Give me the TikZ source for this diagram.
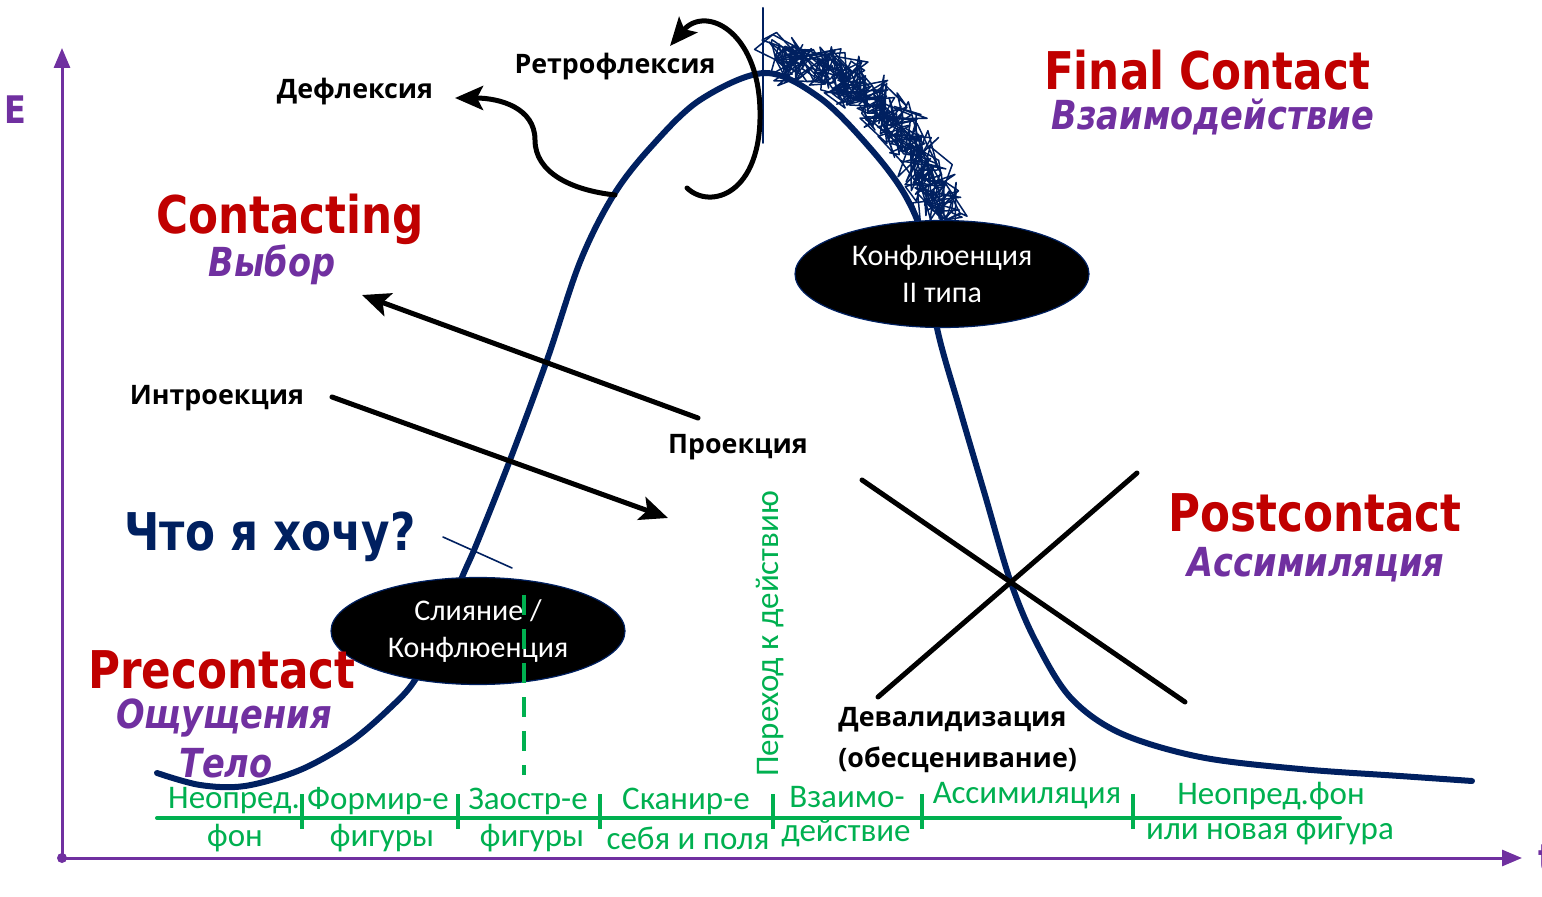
\documentclass[tikz,border=0pt]{standalone}
\usepackage{fontspec}
\setmainfont{Open Sans}
\newfontfamily\headfont[FakeStretch=0.84]{DejaVu Sans}
\newfontfamily\stagefont{Carlito}
\usetikzlibrary{arrows.meta,shapes.geometric,decorations.pathmorphing}
\definecolor{navy}{HTML}{002060}
\definecolor{ered}{HTML}{C00000}
\definecolor{lilac}{HTML}{7030A0}
\definecolor{leaf}{HTML}{00B050}
\begin{document}
\begin{tikzpicture}[x=0.5pt,y=-0.5pt,line join=round,line cap=round,
		>={Stealth[length=14pt,width=12pt,inset=3pt]},
		curve/.style={navy,line width=3pt},
		axis/.style={lilac,line width=1.5pt,-{Triangle[length=10pt,width=8pt]}},
		move/.style={line width=2.5pt,->},
		cross/.style={line width=2.5pt},
		blob/.style={ellipse,fill=black,draw=navy,line width=0.6pt,text=white,align=center,
			minimum width=147pt,minimum height=53.5pt,inner sep=0pt,
			font=\stagefont\fontsize{15}{18.5}\selectfont},
		stage/.style={leaf,inner sep=0pt,font=\stagefont\fontsize{16.5}{18}\selectfont},
		phase/.style={ered,inner sep=0pt,font=\headfont\bfseries\fontsize{26}{29}\selectfont},
		mode/.style={lilac,inner sep=0pt,font=\headfont\bfseries\itshape\fontsize{20}{22}\selectfont},
		lab/.style={inner sep=0pt,font=\bfseries\fontsize{13.4}{16}\selectfont}]
	\useasboundingbox (0,0) rectangle (1542,897);
	% axes
	\coordinate (O) at (62,858);
	\draw[axis] (O) -- (62,48);
	\draw[axis] (O) -- (1522,858);
	\fill[lilac] (O) circle (2.5pt);
	\node[lilac,font=\headfont\bfseries\fontsize{19}{20}\selectfont] (E) at (15,110) {E};
	\node[lilac,anchor=west,font=\headfont\bfseries\fontsize{19}{20}\selectfont] (t) at (1531,858) {t};
	% energy curve
	\draw[curve] plot[smooth,tension=0.55] coordinates {(157,773) (200,785) (245,786) (300,770)
		(350,742) (390,708) (415,680) (440,630) (463,575) (477,543) (510,460) (547,360)
		(580,262) (613,196) (650,148) (700,100) (765,73) (820,98) (870,148) (905,195)
		(925,245) (937,328) (960,410) (985,495) (1010,580) (1035,640) (1070,697)
		(1120,733) (1200,757) (1300,769) (1400,776) (1472,781)};
	% scribble at the top
	\pgfmathsetseed{17}
	\foreach \amp/\seg in {13/2.6,10/2.2,14/3,8/2,12/2.4,11/2.8,9/1.8,13/2.2,7/1.6}
		\draw[navy,line width=0.75pt,decorate,
			decoration={random steps,segment length=\seg pt,amplitude=\amp pt}]
			(776,60) .. controls (855,60) and (917,133) .. (946,220);
	\draw[navy,line width=1pt] (763,8) -- (763,143);
	% ovals
	\node[blob] (fusion) at (478,631) {Слияние /\\Конфлюенция};
	\node[blob] (confl) at (942,274) {Конфлюенция\\II типа};
	\draw[leaf,line width=2pt,line cap=butt,dash pattern=on 10pt off 7pt] (524,595) -- (524,775);
	\draw[navy,line width=0.8pt] (443,537) -- (512,568);
	% deflection and retroflection
	\coordinate (defl-s) at (615,195);
	\coordinate (defl-e) at (455,98);
	\draw[move] (defl-s) .. controls (570,190) and (535,172) .. (535,140)
		.. controls (535,108) and (500,98) .. (defl-e);
	\coordinate (retro-s) at (687,188);
	\coordinate (retro-e) at (670,46);
	\draw[move] (retro-s) .. controls (710,210) and (762,195) .. (760,110)
		.. controls (758,30) and (705,5) .. (retro-e);
	\node[lab] (defl) at (355,92) {Дефлексия};
	\node[lab] (retro) at (615,67) {Ретрофлексия};
	% introjection and projection
	\node[lab] (intro) at (217,398) {Интроекция};
	\node[lab] (proj) at (738,447) {Проекция};
	\coordinate (intro-s) at (332,397);
	\coordinate (intro-e) at (668,518);
	\coordinate (proj-s) at (698,418);
	\coordinate (proj-e) at (362,295);
	\draw[move] (intro-s) -- (intro-e);
	\draw[move] (proj-s) -- (proj-e);
	% devaluation cross
	\draw[cross] (862,480) -- (1185,702);
	\draw[cross] (878,697) -- (1137,473);
	\node[lab,anchor=west] (deval) at (838,720) {Девалидизация};
	\node[lab,anchor=west] (deval2) at (838,760) {(обесценивание)};
	% phases
	\node[phase] (fc) at (1207,70) {Final Contact};
	\node[mode] (fc2) at (1213,117) {Взаимодействие};
	\node[phase] (ct) at (290,219) {Contacting};
	\node[mode] (ct2) at (272,265) {Выбор};
	\node[phase] (pc) at (1315,513) {Postcontact};
	\node[mode] (pc2) at (1316,565) {Ассимиляция};
	\node[phase] (pre) at (222,670) {Precontact};
	\node[mode] (pre2) at (224,718) {Ощущения};
	\node[mode] (pre3) at (226,763) {Тело};
	\node[navy,inner sep=0pt,font=\headfont\bfseries\fontsize{26}{28}\selectfont] (want) at (270,537) {Что я хочу?};
	% time line of stages
	\draw[leaf,line width=2pt] (157,818) -- (1340,818);
	\foreach \x in {302,458,600,773,922,1133}
		\draw[leaf,line width=1.6pt,line cap=butt] (\x,794) -- (\x,829);
	\node[stage] (s1) at (234,801) {Неопред.};
	\node[stage] (s1b) at (235,838) {фон};
	\node[stage] (s2) at (378,801) {Формир-е};
	\node[stage] (s2b) at (382,838) {фигуры};
	\node[stage] (s3) at (528,801) {Заостр-е};
	\node[stage] (s3b) at (532,838) {фигуры};
	\node[stage] (s4) at (686,801) {Сканир-е};
	\node[stage] (s4b) at (688,838) {себя и поля};
	\node[stage] (s5) at (847,797) {Взаимо-};
	\node[stage] (s5b) at (846,833) {действие};
	\node[stage] (s6) at (1027,796) {Ассимиляция};
	\node[stage] (s7) at (1271,796) {Неопред.фон};
	\node[stage] (s7b) at (1270,831) {или новая фигура};
	\node[stage,rotate=90] (act) at (770,634) {Переход к действию};
\end{tikzpicture}
\end{document}
